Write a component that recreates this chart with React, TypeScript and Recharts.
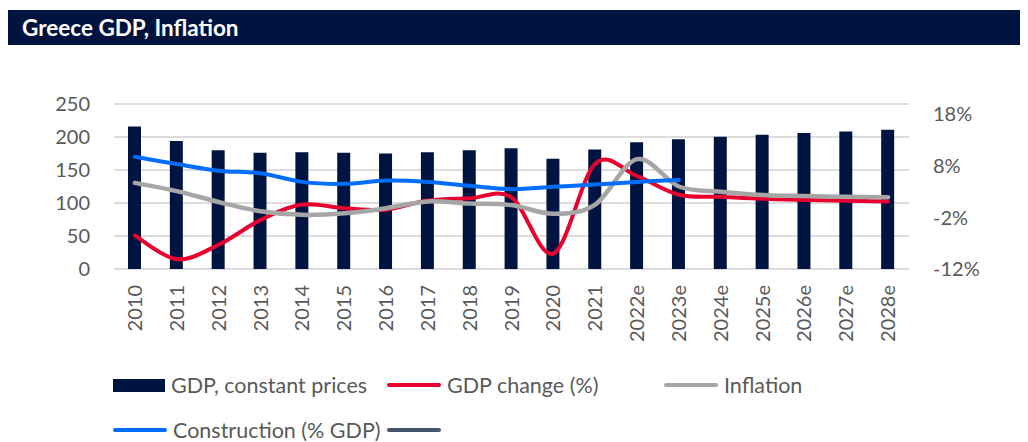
import React from "react";
import {
  ComposedChart,
  Bar,
  Line,
  XAxis,
  YAxis,
  CartesianGrid,
} from "recharts";

// categories
const years = [
  "2010", "2011", "2012", "2013", "2014", "2015", "2016", "2017", "2018", "2019",
  "2020", "2021", "2022e", "2023e", "2024e", "2025e", "2026e", "2027e", "2028e",
];
// GDP, constant prices (left axis)
const gdp = [216, 194, 180, 176, 177, 176, 175, 177, 180, 183, 167, 181, 192, 196.5, 200.5, 203.5, 206, 208.5, 211];
// GDP change % (right axis)
const gdpChange = [-5.5, -10.1, -7.3, -2.5, 0.5, -0.2, -0.5, 1.3, 1.7, 1.9, -9.0, 8.4, 6.0, 2.4, 2.0, 1.6, 1.4, 1.25, 1.1];
// Inflation % (right axis)
const inflation = [4.7, 3.1, 1.0, -0.8, -1.5, -1.2, -0.2, 1.1, 0.7, 0.4, -1.3, 0.5, 9.3, 4.0, 3.0, 2.35, 2.15, 2.0, 1.9];
// Construction (left axis), no values after 2023e
const construction = [170, 159, 149, 145, 132, 129, 134, 132, 126, 121, 124.5, 128, 132, 135, null, null, null, null, null];

const leftTicks = [0, 50, 100, 150, 200, 250];
const rightTicks = [-12, -2, 8, 18];

const NAVY = "#001441";
const RED = "#E8002F";
const GRAY = "#A6A6A6";
const BLUE = "#006EFA";
const SLATE = "#44546A";
const TXT = "#595959";
const FONT = "Lato, 'Open Sans', sans-serif";

const data = years.map((year, i) => ({
  year,
  gdp: gdp[i],
  gdpChange: gdpChange[i],
  inflation: inflation[i],
  construction: construction[i],
}));

// excel-like smoothed line (catmull-rom through the points)
const excelCurve = (context: any) => {
  let xs: number[] = [];
  let ys: number[] = [];
  return {
    areaStart() {},
    areaEnd() {},
    lineStart() {
      xs = [];
      ys = [];
    },
    lineEnd() {
      const n = xs.length;
      if (!n) return;
      context.moveTo(xs[0], ys[0]);
      for (let i = 0; i < n - 1; i++) {
        const a = Math.max(i - 1, 0);
        const d = Math.min(i + 2, n - 1);
        context.bezierCurveTo(
          xs[i] + (xs[i + 1] - xs[a]) / 6,
          ys[i] + (ys[i + 1] - ys[a]) / 6,
          xs[i + 1] - (xs[d] - xs[i]) / 6,
          ys[i + 1] - (ys[d] - ys[i]) / 6,
          xs[i + 1],
          ys[i + 1]
        );
      }
    },
    point(x: number, y: number) {
      xs.push(+x);
      ys.push(+y);
    },
  };
};

const XTick = (props: any) => {
  const { x, y, payload } = props;
  return (
    <text
      x={x}
      y={y}
      dy="0.355em"
      transform={`rotate(-90 ${x} ${y})`}
      textAnchor="end"
      fill={TXT}
      fontSize={20}
      fontFamily={FONT}
    >
      {payload.value}
    </text>
  );
};

const legendItems = [
  { label: "GDP, constant prices", color: NAVY, kind: "bar", left: 105, top: 377 },
  { label: "GDP change (%)", color: RED, kind: "line", left: 379, top: 377 },
  { label: "Inflation", color: GRAY, kind: "line", left: 656, top: 377 },
  { label: "Construction (% GDP)", color: BLUE, kind: "line", left: 105, top: 422 },
  { label: "", color: SLATE, kind: "line", left: 379, top: 422 },
];

const App: React.FC = () => {
  return (
    <div style={{ position: "relative", width: 1020, height: 434, fontFamily: FONT }}>
      <div
        style={{
          position: "absolute",
          top: 2,
          left: 0,
          width: 1020,
          height: 35,
          background: "#00133F",
          color: "white",
          fontWeight: 700,
          fontSize: 22.5,
          lineHeight: "35px",
          paddingLeft: 14,
          boxSizing: "border-box",
        }}
      >
        Greece GDP, Inflation
      </div>
      <div style={{ position: "absolute", top: 37, left: 0 }}>
        <ComposedChart
          width={1012}
          height={300}
          data={data}
          margin={{ top: 59, right: 0, bottom: 0, left: 0 }}
        >
          <CartesianGrid
            yAxisId="left"
            vertical={false}
            stroke="#DDDDDD"
            strokeWidth={2}
          />
          <XAxis
            dataKey="year"
            interval={0}
            height={76}
            axisLine={false}
            tickLine={false}
            tickSize={0}
            tickMargin={16}
            tick={<XTick />}
          />
          <YAxis
            yAxisId="left"
            orientation="left"
            width={106}
            domain={[0, 250]}
            ticks={leftTicks}
            axisLine={false}
            tickLine={false}
            tickSize={0}
            tickMargin={24}
            tick={{ fill: TXT, fontSize: 20, fontFamily: FONT }}
          />
          <YAxis
            yAxisId="right"
            orientation="right"
            width={111}
            domain={[-12, 20]}
            ticks={rightTicks}
            allowDataOverflow
            axisLine={false}
            tickLine={false}
            tickSize={0}
            tickMargin={24}
            tickFormatter={(v) => `${v}%`}
            tick={{ fill: TXT, fontSize: 20, fontFamily: FONT }}
          />
          <Bar
            yAxisId="left"
            dataKey="gdp"
            fill={NAVY}
            barSize={13}
            isAnimationActive={false}
          />
          <Line
            yAxisId="right"
            dataKey="gdpChange"
            type={excelCurve as any}
            stroke={RED}
            strokeWidth={4}
            strokeLinecap="round"
            dot={false}
            activeDot={false}
            isAnimationActive={false}
          />
          <Line
            yAxisId="right"
            dataKey="inflation"
            type={excelCurve as any}
            stroke={GRAY}
            strokeWidth={4.5}
            strokeLinecap="round"
            dot={false}
            activeDot={false}
            isAnimationActive={false}
          />
          <Line
            yAxisId="left"
            dataKey="construction"
            type={excelCurve as any}
            stroke={BLUE}
            strokeWidth={4}
            strokeLinecap="round"
            dot={false}
            activeDot={false}
            isAnimationActive={false}
          />
        </ComposedChart>
      </div>
      {legendItems.map((it) => (
        <div
          key={it.left + "-" + it.top}
          style={{
            position: "absolute",
            left: it.left,
            top: it.top - 15,
            height: 30,
            display: "flex",
            alignItems: "center",
            whiteSpace: "nowrap",
          }}
        >
          {it.kind === "bar" ? (
            <div style={{ width: 52, height: 13, background: it.color }} />
          ) : (
            <div style={{ width: 54, height: 4, borderRadius: 2, background: it.color }} />
          )}
          {it.label && (
            <span style={{ marginLeft: 6, fontSize: 21.5, color: TXT, lineHeight: "30px" }}>
              {it.label}
            </span>
          )}
        </div>
      ))}
    </div>
  );
};

export default App;
